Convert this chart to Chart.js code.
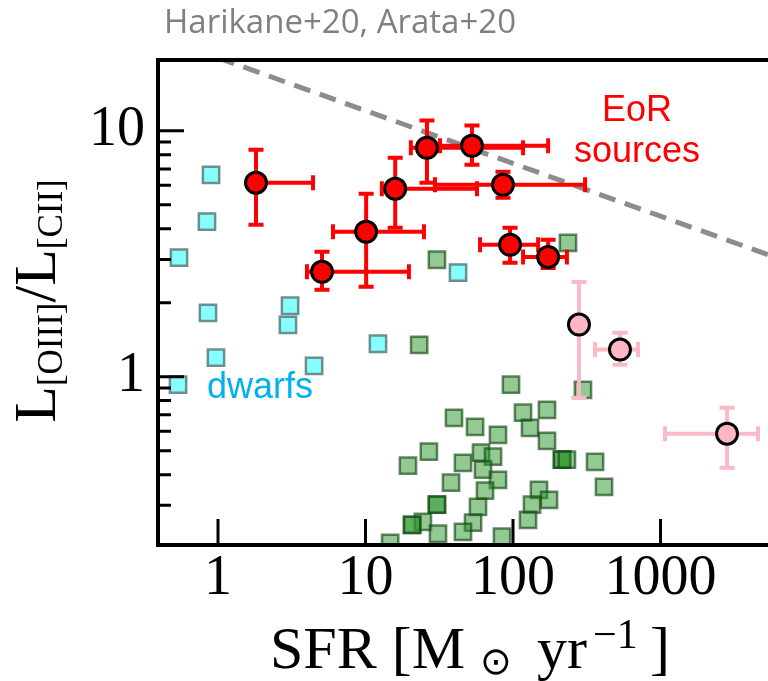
<!DOCTYPE html>
<html><head><meta charset="utf-8">
<script src="https://cdn.jsdelivr.net/npm/chart.js@4.4.0/dist/chart.umd.min.js"></script>
<style>html,body{margin:0;padding:0;background:#fff;}#wrap{width:768px;height:681px;position:relative;}</style>
</head><body><div id="wrap"><canvas id="c" width="768" height="681"></canvas></div>
<script>
const titleText = "Harikane+20, Arata+20";
const xTicks = [1, 10, 100, 1000];
const yTicks = [1, 10];
const yMinorTicks = [0.3, 0.4, 0.5, 0.6, 0.7, 0.8, 0.9, 2, 3, 4, 5, 6, 7, 8, 9];
const xRange = [0.392, 5354];
const yRange = [0.207, 19.4];

// EoR sources (red)
const eorSFR     = [1.81, 10.1, 5.07, 15.9, 26.1, 52.7, 85.5, 95.5, 173];
const eorRatio   = [6.15, 3.89, 2.67, 5.81, 8.53, 8.69, 6.03, 3.44, 3.07];
const eorSFRLo   = [1.81, 6.02, 4.01, 12.9, 20.3, 32.0, 29.6, 59.8, 117];
const eorSFRHi   = [4.41, 24.9, 19.7, 57.0, 117, 173, 308, 148, 232];
const eorRatioLo = [4.15, 2.32, 2.26, 4.03, 6.15, 7.27, 5.34, 2.91, 2.77];
const eorRatioHi = [8.37, 5.55, 3.22, 7.77, 11.0, 10.5, 6.81, 4.03, 3.61];

// pink sources
const pinkSFR     = [280, 531, 2825];
const pinkRatio   = [1.63, 1.29, 0.587];
const pinkSFRLo   = [280, 360, 1073];
const pinkSFRHi   = [280, 703, 4581];
const pinkRatioLo = [0.822, 1.12, 0.427];
const pinkRatioHi = [2.43, 1.51, 0.748];

// dwarfs (cyan)
const dwarfSFR   = [0.897, 0.842, 0.544, 42.4, 0.855, 3.08, 2.98, 0.969, 4.48, 12.15, 0.536];
const dwarfRatio = [6.62, 4.27, 3.05, 2.65, 1.82, 1.944, 1.627, 1.195, 1.108, 1.362, 0.928];

// green squares
const greenSFR   = [30.5, 236, 23.1, 96.9, 298, 39.8, 55.3, 79.1, 116.9, 170, 130.4, 170, 26.9, 19.4,
                    60.7, 73.2, 45.8, 62.6, 79.1, 38.0, 214.9, 214.9, 232, 360, 414, 150, 175.4, 134.5, 126.4,
                    64.6, 57.9, 53.6, 45.8, 84.2, 30.5, 30.5, 24.5, 20.7, 20.7, 31.0, 14.7];
const greenRatio = [2.99, 3.50, 1.349, 0.928, 0.885, 0.681, 0.626, 0.581, 0.714, 0.734, 0.620, 0.549, 0.496, 0.435,
                    0.491, 0.473, 0.447, 0.419, 0.381, 0.371, 0.460, 0.460, 0.460, 0.451, 0.357, 0.347, 0.316, 0.302, 0.262,
                    0.344, 0.296, 0.255, 0.234, 0.224, 0.302, 0.302, 0.257, 0.250, 0.250, 0.230, 0.211];

// dashed limit line
const limitSFR   = [1, 6000];
const limitRatio = [19.8, 3.06];

const pts = (xs, ys) => xs.map((x, i) => ({x: x, y: ys[i]}));

const decor = {
  id: 'decor',
  beforeDatasetDraw(chart, args) {
    const ds = chart.data.datasets[args.index];
    if (!ds.err) return;
    const xs = chart.scales.x, ys = chart.scales.y, ctx = chart.ctx, a = chart.chartArea;
    ctx.save();
    ctx.beginPath(); ctx.rect(a.left, a.top, a.right - a.left, a.bottom - a.top); ctx.clip();
    ctx.strokeStyle = ds.err.color; ctx.lineWidth = 4; ctx.lineCap = 'butt';
    const cap = 7.5;
    ds.data.forEach((p, i) => {
      const px = xs.getPixelForValue(p.x), py = ys.getPixelForValue(p.y);
      const xl = xs.getPixelForValue(ds.err.xlo[i]), xh = xs.getPixelForValue(ds.err.xhi[i]);
      const yl = ys.getPixelForValue(ds.err.ylo[i]), yh = ys.getPixelForValue(ds.err.yhi[i]);
      ctx.beginPath();
      [xl, xh].forEach(e => { if (Math.abs(e - px) > 0.5) { ctx.moveTo(px, py); ctx.lineTo(e, py); ctx.moveTo(e, py - cap); ctx.lineTo(e, py + cap); } });
      [yl, yh].forEach(e => { if (Math.abs(e - py) > 0.5) { ctx.moveTo(px, py); ctx.lineTo(px, e); ctx.moveTo(px - cap, e); ctx.lineTo(px + cap, e); } });
      ctx.stroke();
    });
    ctx.restore();
  },
  afterDraw(chart) {
    const ctx = chart.ctx, a = chart.chartArea, xs = chart.scales.x, ys = chart.scales.y;
    ctx.save();
    // frame
    ctx.strokeStyle = '#000'; ctx.lineWidth = 4;
    ctx.beginPath();
    ctx.moveTo(a.right + 20, a.top); ctx.lineTo(a.left, a.top); ctx.lineTo(a.left, a.bottom); ctx.lineTo(a.right + 20, a.bottom);
    ctx.stroke();
    // ticks (inward)
    ctx.lineWidth = 3; ctx.beginPath();
    xTicks.forEach(v => { const px = xs.getPixelForValue(v); ctx.moveTo(px, a.bottom); ctx.lineTo(px, a.bottom - 26); });
    yTicks.forEach(v => { const py = ys.getPixelForValue(v); ctx.moveTo(a.left, py); ctx.lineTo(a.left + 26, py); });
    yMinorTicks.forEach(v => { const py = ys.getPixelForValue(v); ctx.moveTo(a.left, py); ctx.lineTo(a.left + 13, py); });
    ctx.stroke();
    // title
    ctx.fillStyle = '#808080'; ctx.font = '33px "Open Sans"'; ctx.textAlign = 'left'; ctx.textBaseline = 'alphabetic';
    ctx.fillText(titleText, 164, 33);
    // annotations
    ctx.fillStyle = '#ff0000'; ctx.font = '36px "Liberation Sans"'; ctx.textAlign = 'center';
    ctx.fillText('EoR', 637, 121);
    ctx.fillText('sources', 637, 162);
    ctx.fillStyle = '#00b0f0'; ctx.textAlign = 'left';
    ctx.fillText('dwarfs', 207, 398);
    // x axis title: SFR [M_sun yr^-1]
    ctx.fillStyle = '#000'; ctx.textAlign = 'left'; ctx.textBaseline = 'alphabetic';
    ctx.font = '60px "Liberation Serif"';
    ctx.fillText('SFR [M', 270, 668);
    ctx.fillText('yr', 537, 668);
    ctx.fillText(']', 650, 668);
    ctx.font = '42px "Liberation Serif"';
    ctx.fillText('\u22121', 593, 648);
    ctx.font = '38px "DejaVu Sans"'; ctx.textAlign = 'center'; ctx.textBaseline = 'middle';
    ctx.fillText('\u2299', 496, 664);
    // y axis title: L_[OIII]/L_[CII]
    ctx.save();
    ctx.translate(55, 301); ctx.rotate(-Math.PI / 2);
    ctx.textAlign = 'left'; ctx.textBaseline = 'alphabetic';
    const pieces = [
      {t: 'L', f: '60px "Liberation Serif"', dy: 0},
      {t: '[OIII]', f: '35px "Liberation Serif"', dy: 7},
      {t: '/L', f: '60px "Liberation Serif"', dy: 0},
      {t: '[CII]', f: '35px "Liberation Serif"', dy: 7}
    ];
    let total = 0;
    pieces.forEach(p => { ctx.font = p.f; p.w = ctx.measureText(p.t).width; total += p.w; });
    let x = -total / 2;
    pieces.forEach(p => { ctx.font = p.f; ctx.fillText(p.t, x, p.dy); x += p.w; });
    ctx.restore();
    ctx.restore();
  }
};

const tickFont = {family: '"Liberation Serif"', size: 56, lineHeight: 1};
const zeroPad = s => { s.paddingLeft = 0; s.paddingRight = 0; s.paddingTop = 0; s.paddingBottom = 0; };

new Chart(document.getElementById('c'), {
  data: {
    datasets: [
      {type: 'scatter', data: pts(greenSFR, greenRatio), order: 5, pointStyle: 'rect', pointRadius: 11.5, pointHoverRadius: 11.5,
       backgroundColor: 'rgba(40,150,40,0.5)', borderColor: 'rgba(20,70,20,0.65)', borderWidth: 2.5},
      {type: 'scatter', data: pts(dwarfSFR, dwarfRatio), order: 4, pointStyle: 'rect', pointRadius: 11.5, pointHoverRadius: 11.5,
       backgroundColor: 'rgba(0,255,255,0.48)', borderColor: '#6b8e8e', borderWidth: 2.5},
      {type: 'line', data: pts(limitSFR, limitRatio), order: 3, borderColor: '#8c8c8c', borderWidth: 5, borderDash: [17, 10],
       pointRadius: 0, fill: false, tension: 0},
      {type: 'scatter', data: pts(pinkSFR, pinkRatio), order: 2, pointRadius: 10.5, pointHoverRadius: 10.5,
       backgroundColor: '#ffb6c4', borderColor: '#000', borderWidth: 3,
       err: {color: '#f9b9c5', xlo: pinkSFRLo, xhi: pinkSFRHi, ylo: pinkRatioLo, yhi: pinkRatioHi}},
      {type: 'scatter', data: pts(eorSFR, eorRatio), order: 1, pointRadius: 10.5, pointHoverRadius: 10.5,
       backgroundColor: '#ff0000', borderColor: '#000', borderWidth: 3,
       err: {color: '#ff0000', xlo: eorSFRLo, xhi: eorSFRHi, ylo: eorRatioLo, yhi: eorRatioHi}}
    ]
  },
  options: {
    responsive: false, animation: false, devicePixelRatio: 1,
    layout: {autoPadding: false, padding: {top: 60, left: 0, right: 0, bottom: 0}},
    plugins: {legend: {display: false}, tooltip: {enabled: false}, title: {display: false}},
    scales: {
      x: {type: 'logarithmic', position: 'bottom', min: xRange[0], max: xRange[1],
          grid: {display: false, drawTicks: false}, border: {display: false},
          afterBuildTicks: s => { s.ticks = xTicks.map(v => ({value: v})); },
          afterFit: s => { s.height = 136; zeroPad(s); },
          ticks: {autoSkip: false, maxRotation: 0, minRotation: 0, padding: 6, color: '#000', font: tickFont, callback: v => String(v)}},
      y: {type: 'logarithmic', position: 'left', min: yRange[0], max: yRange[1],
          grid: {display: false, drawTicks: false}, border: {display: false},
          afterBuildTicks: s => { s.ticks = yTicks.map(v => ({value: v})); },
          afterFit: s => { s.width = 158; zeroPad(s); },
          ticks: {autoSkip: false, padding: 13, color: '#000', font: tickFont, callback: v => String(v)}}
    }
  },
  plugins: [decor]
});
</script></body></html>
